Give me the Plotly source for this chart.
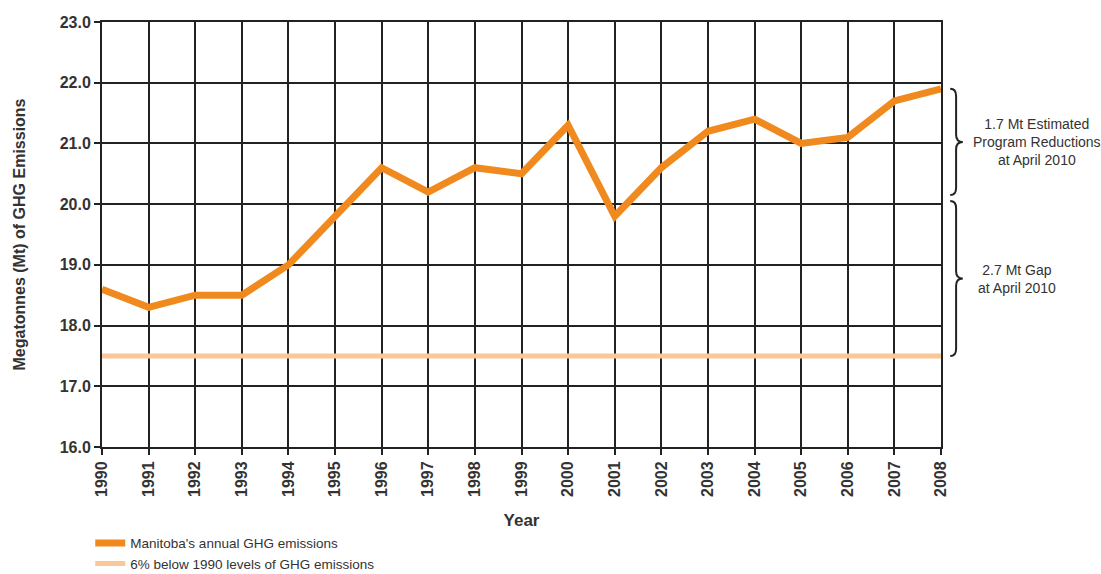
import plotly.graph_objects as go

years = list(range(1990, 2009))
emissions = [18.6, 18.3, 18.5, 18.5, 19.0, 19.8, 20.6, 20.2, 20.6, 20.5,
             21.3, 19.8, 20.6, 21.2, 21.4, 21.0, 21.1, 21.7, 21.9]
target_level = 17.5
target = [target_level] * len(years)
y_ticks = [16, 17, 18, 19, 20, 21, 22, 23]
y_tick_labels = [f"{v:.1f}" for v in y_ticks]

series_names = ["Manitoba's annual GHG emissions", "6% below 1990 levels of GHG emissions"]
brace_labels = ["1.7 Mt Estimated<br>Program Reductions<br>at April 2010", "2.7 Mt Gap<br>at April 2010"]
brace_ranges = [(21.9, 20.15), (20.05, 17.5)]

ORANGE = "#F08A1E"
PEACH = "#F9C896"
FONT = "Liberation Sans"

fig = go.Figure()
fig.add_trace(go.Scatter(x=years, y=emissions, mode="lines", name=series_names[0],
                         line=dict(color=ORANGE, width=7), cliponaxis=False))
fig.add_trace(go.Scatter(x=years, y=target, mode="lines", name=series_names[1],
                         line=dict(color=PEACH, width=5), cliponaxis=False))


def brace(yt, yb):
    x0, xm, xt = 1.011, 1.018, 1.026
    ym = (yt + yb) / 2
    dy = 0.12
    return (f"M {x0},{yt} Q {xm},{yt} {xm},{yt-dy} L {xm},{ym+dy} "
            f"Q {xm},{ym} {xt},{ym} Q {xm},{ym} {xm},{ym-dy} "
            f"L {xm},{yb+dy} Q {xm},{yb} {x0},{yb}")


shapes = []
for yt, yb in brace_ranges:
    shapes.append(dict(type="path", xref="paper", yref="y", path=brace(yt, yb),
                       line=dict(color="#222222", width=2)))

annotations = [
    dict(xref="paper", yref="y", x=1.115, y=(brace_ranges[0][0] + brace_ranges[0][1]) / 2,
         text=brace_labels[0], showarrow=False, xanchor="center", yanchor="middle",
         font=dict(family=FONT, size=14, color="#333333"), align="center"),
    dict(xref="paper", yref="y", x=1.09, y=(brace_ranges[1][0] + brace_ranges[1][1]) / 2,
         text=brace_labels[1], showarrow=False, xanchor="center", yanchor="middle",
         font=dict(family=FONT, size=14, color="#333333"), align="center"),
]

fig.update_layout(
    width=1101, height=574,
    margin=dict(l=102, r=160, t=22, b=127, autoexpand=False),
    paper_bgcolor="white", plot_bgcolor="white",
    font=dict(family=FONT, color="#333333"),
    shapes=shapes, annotations=annotations,
    showlegend=True,
    legend=dict(x=-0.014, y=-0.19, xanchor="left", yanchor="top",
                font=dict(family=FONT, size=13.5, color="#333333"),
                tracegroupgap=0, itemwidth=30, bgcolor="rgba(0,0,0,0)"),
    xaxis=dict(range=[1990, 2008], tickmode="array", tickvals=years,
               ticktext=[str(y) for y in years], tickangle=-90,
               showgrid=True, gridcolor="#222222", gridwidth=2,
               showline=True, linecolor="#222222", linewidth=2, mirror=True,
               ticks="outside", ticklen=6, tickwidth=2, tickcolor="#222222",
               tickfont=dict(family=FONT, size=16, color="#333333", weight="bold"),
               title=dict(text="<b>Year</b>", font=dict(family=FONT, size=17, color="#333333"),
                          standoff=18),
               zeroline=False),
    yaxis=dict(range=[16, 23], tickmode="array", tickvals=y_ticks, ticktext=y_tick_labels,
               showgrid=True, gridcolor="#222222", gridwidth=2,
               showline=True, linecolor="#222222", linewidth=2, mirror=True,
               ticks="outside", ticklen=6, tickwidth=2, tickcolor="#222222",
               tickfont=dict(family=FONT, size=16, color="#333333", weight="bold"),
               title=dict(text="<b>Megatonnes (Mt) of GHG Emissions</b>",
                          font=dict(family=FONT, size=16, color="#333333"), standoff=30),
               zeroline=False),
)

fig.write_html("out.html")
